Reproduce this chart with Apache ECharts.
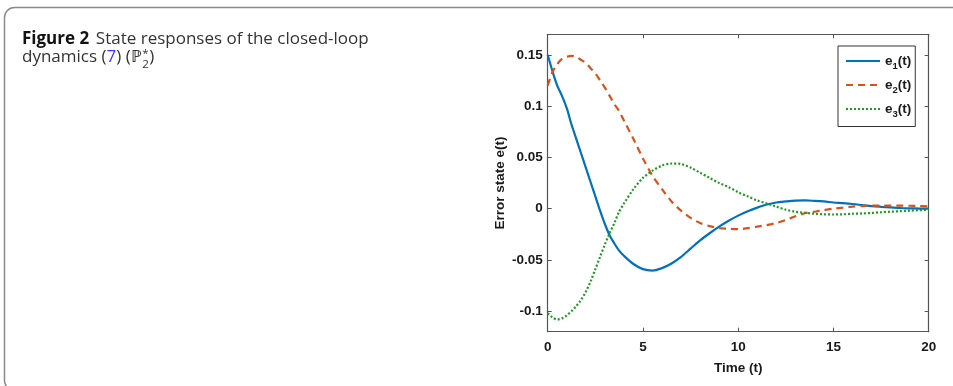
<!DOCTYPE html>
<html>
<head>
<meta charset="utf-8">
<script src="https://cdn.jsdelivr.net/npm/echarts@6/dist/echarts.min.js"></script>
<style>
html,body{margin:0;padding:0;background:#fff;}
#chart{width:953px;height:386px;}
</style>
</head>
<body>
<div id="chart"></div>
<script>
// ---- data ----
var time = [0,0.25,0.5,0.75,1,1.25,1.5,1.75,2,2.25,2.5,2.75,3,3.25,3.5,3.75,4,4.5,5,5.5,6,6.5,7,7.5,8,8.5,9,9.5,10,10.5,11,11.5,12,12.5,13,13.5,14,14.5,15,15.5,16,16.5,17,17.5,18,18.5,19,19.5,20];
var e1 = [0.150,0.134,0.120,0.110,0.098,0.082,0.068,0.054,0.040,0.026,0.012,-0.002,-0.015,-0.026,-0.034,-0.041,-0.046,-0.054,-0.059,-0.0604,-0.058,-0.0535,-0.047,-0.039,-0.031,-0.024,-0.0175,-0.0118,-0.0068,-0.0025,0.001,0.004,0.006,0.007,0.0078,0.008,0.0076,0.007,0.006,0.0053,0.0045,0.0035,0.0025,0.0018,0.0012,0.0006,0.0003,0.0001,0.0];
var e2 = [0.120,0.133,0.141,0.146,0.148,0.149,0.148,0.145,0.142,0.137,0.132,0.125,0.118,0.110,0.102,0.095,0.086,0.068,0.049,0.032,0.019,0.007,-0.002,-0.009,-0.014,-0.017,-0.019,-0.0197,-0.020,-0.019,-0.0175,-0.016,-0.014,-0.011,-0.0075,-0.0045,-0.003,-0.0015,0.0,0.001,0.002,0.0025,0.003,0.003,0.003,0.003,0.0028,0.0025,0.0022];
var e3 = [-0.102,-0.106,-0.108,-0.107,-0.104,-0.100,-0.095,-0.089,-0.081,-0.071,-0.059,-0.047,-0.035,-0.024,-0.014,-0.003,0.005,0.019,0.030,0.037,0.042,0.044,0.0435,0.040,0.035,0.030,0.025,0.021,0.016,0.012,0.008,0.005,0.002,-0.001,-0.003,-0.004,-0.005,-0.0055,-0.0057,-0.0055,-0.005,-0.0047,-0.0042,-0.0035,-0.003,-0.0025,-0.002,-0.0015,-0.001];
var xTicks = [0,5,10,15,20];
var yTicks = [-0.1,-0.05,0,0.05,0.1,0.15];
var yTickLabels = ['-0.1','-0.05','0','0.05','0.1','0.15'];
var seriesNames = ['e1','e2','e3'];

function pairs(v){ return time.map(function(t,i){ return [t, v[i]]; }); }

// measure caption text widths
var TF = 'Open Sans, Noto Sans, sans-serif';
var TS = 17;
var mctx = document.createElement('canvas').getContext('2d');
function tw(s, size, weight){ mctx.font = (weight||'normal') + ' ' + size + 'px ' + TF; return mctx.measureText(s).width; }
var capX = 22;
var w1 = tw('dynamics (', TS);
var w2 = tw('7', TS);
var w3 = tw(') (ℙ', TS);
var starX = capX + w1 + w2 + w3 + 0.5;
var wStar = Math.max(tw('*', 11.5), tw('2', 11.5));

var chart = echarts.init(document.getElementById('chart'), null, {renderer:'canvas'});
var axisCol = '#555';
var lblFont = {fontFamily:'Liberation Sans, Arial, sans-serif', fontWeight:'bold', fontSize:13.5, color:'#1a1a1a'};

var option = {
  animation:false,
  backgroundColor:'#fff',
  grid:{left:547.7, right:24.3, top:34.3, bottom:54.3, containLabel:false},
  xAxis:[{
    type:'value', min:0, max:20, interval:5, position:'bottom',
    name:'Time (t)', nameLocation:'middle', nameGap:30,
    nameTextStyle:lblFont,
    axisLine:{show:true, onZero:false, lineStyle:{color:axisCol, width:1.2}},
    axisTick:{show:true, inside:true, length:4, lineStyle:{color:axisCol}},
    axisLabel:Object.assign({margin:9}, lblFont),
    splitLine:{show:false}
  },{
    type:'value', min:0, max:20, interval:5, position:'top',
    axisLine:{show:true, onZero:false, lineStyle:{color:axisCol, width:1.2}},
    axisTick:{show:true, inside:true, length:4, lineStyle:{color:axisCol}},
    axisLabel:{show:false}, splitLine:{show:false}
  }],
  yAxis:[{
    type:'value', min:-0.12, max:0.17, position:'left',
    name:'Error state e(t)', nameLocation:'middle', nameGap:40, nameRotate:90,
    nameTextStyle:lblFont,
    axisLine:{show:true, onZero:false, lineStyle:{color:axisCol, width:1.2}},
    axisTick:{show:true, inside:true, length:4, customValues:yTicks, lineStyle:{color:axisCol}},
    axisLabel:Object.assign({margin:5, customValues:yTicks, formatter:function(v){
      var i = yTicks.indexOf(v); return i>=0 ? yTickLabels[i] : String(v);
    }}, lblFont),
    splitLine:{show:false}
  },{
    type:'value', min:-0.12, max:0.17, position:'right',
    axisLine:{show:true, onZero:false, lineStyle:{color:axisCol, width:1.2}},
    axisTick:{show:true, inside:true, length:4, customValues:yTicks, lineStyle:{color:axisCol}},
    axisLabel:{show:false}, splitLine:{show:false}
  }],
  legend:{
    orient:'vertical', left:838, top:46,
    backgroundColor:'#fff', borderColor:'#333', borderWidth:1,
    padding:[8,4,7,7], itemWidth:34, itemHeight:16, itemGap:6.5,
    itemStyle:{opacity:0},
    data:seriesNames,
    formatter:function(n){ return '{b|e}{s|' + n.slice(1) + '}{b|(t)}'; },
    textStyle:{
      fontFamily:'Liberation Sans, Arial, sans-serif', fontWeight:'bold', fontSize:13.5, color:'#1a1a1a',
      rich:{
        b:{fontFamily:'Liberation Sans, Arial, sans-serif', fontWeight:'bold', fontSize:13.5, color:'#1a1a1a'},
        s:{fontFamily:'Liberation Sans, Arial, sans-serif', fontWeight:'bold', fontSize:9.5, color:'#1a1a1a', padding:[11,0,0,0]}
      }
    }
  },
  graphic:[
    {type:'rect', shape:{x:4.5, y:7.5, width:1000, height:383, r:[10,0,0,10]},
     style:{fill:'none', stroke:'#8a8a8a', lineWidth:1.5}, silent:true, z:-1},
    {type:'text', left:capX, top:31, style:{
      text:'{b|Figure 2}  {n|State responses of the closed-loop}',
      rich:{
        b:{fontFamily:TF, fontWeight:'bold', fontSize:TS, fill:'#111'},
        n:{fontFamily:TF, fontSize:TS, fill:'#333'}
      }}},
    {type:'text', left:capX, top:49, style:{
      text:'{n|dynamics (}{l|7}{n|) (ℙ}',
      rich:{
        n:{fontFamily:TF, fontSize:TS, fill:'#333'},
        l:{fontFamily:TF, fontSize:TS, fill:'#3a3aff'}
      }}},
    {type:'text', left:starX, top:48, style:{text:'*', fontFamily:TF, fontSize:11.5, fill:'#333'}},
    {type:'text', left:starX, top:59, style:{text:'2', fontFamily:TF, fontSize:11.5, fill:'#333'}},
    {type:'text', left:starX + wStar + 0.5, top:49, style:{text:')', fontFamily:TF, fontSize:TS, fill:'#333'}}
  ],
  series:[
    {name:'e1', type:'line', data:pairs(e1), xAxisIndex:0, yAxisIndex:0, showSymbol:false, symbol:'none', smooth:0.3,
     lineStyle:{color:'#0072BD', width:2.2, type:'solid'}, itemStyle:{color:'#0072BD'}},
    {name:'e2', type:'line', data:pairs(e2), xAxisIndex:0, yAxisIndex:0, showSymbol:false, symbol:'none', smooth:0.3,
     lineStyle:{color:'#D95319', width:2.2, type:[7,5]}, itemStyle:{color:'#D95319'}},
    {name:'e3', type:'line', data:pairs(e3), xAxisIndex:0, yAxisIndex:0, showSymbol:false, symbol:'none', smooth:0.3,
     lineStyle:{color:'#1f9a1f', width:2.2, type:[2,2]}, itemStyle:{color:'#1f9a1f'}}
  ]
};
chart.setOption(option);
</script>
</body>
</html>
